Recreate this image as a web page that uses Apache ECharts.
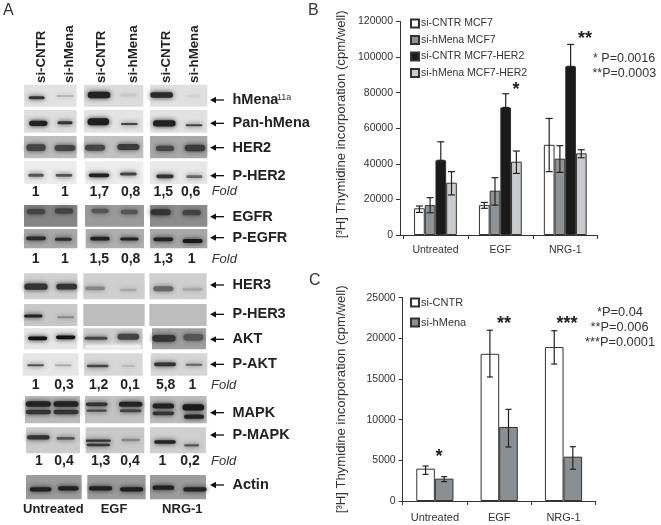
<!DOCTYPE html>
<html><head><meta charset="utf-8">
<script src="https://cdn.jsdelivr.net/npm/echarts@6/dist/echarts.min.js"></script>
<style>html,body{margin:0;background:#fff}#c{width:661px;height:525px}</style></head>
<body><div id="c"></div>
<script>
// ---------- chart data ----------
const categories = ['Untreated', 'EGF', 'NRG-1'];
const namesB = ['si-CNTR MCF7', 'si-hMena MCF7', 'si-CNTR MCF7-HER2', 'si-hMena MCF7-HER2'];
const cntrMcf7 = [15000, 16800, 50700];
const hMenaMcf7 = [16800, 24900, 42900];
const cntrHer2 = [42000, 71700, 94800];
const hMenaHer2 = [29400, 41200, 45900];
const cntrMcf7Err = [[12700, 16300], [15000, 18300], [35600, 65500]];
const hMenaMcf7Err = [[12500, 21000], [16800, 32200], [35200, 50200]];
const cntrHer2Err = [[42000, 52400], [71700, 79400], [94800, 107100]];
const hMenaHer2Err = [[22500, 35600], [34600, 47200], [43400, 47900]];
const namesC = ['si-CNTR', 'si-hMena'];
const cntrC = [3975, 18100, 18930];
const hMenaC = [2750, 9100, 5450];
const cntrCErr = [[3280, 4300], [15250, 21000], [16840, 20940]];
const hMenaCErr = [[2380, 3000], [6640, 11270], [3900, 6680]];
const pTextB = ['* P=0.0016', '**P=0.0003'];
const pTextC = ['*P=0.04', '**P=0.006', '***P=0.0001'];
const blotNames = ['hMena', 'Pan-hMena', 'HER2', 'P-HER2', 'EGFR', 'P-EGFR', 'HER3', 'P-HER3', 'AKT', 'P-AKT', 'MAPK', 'P-MAPK', 'Actin'];
const laneNames = ['si-CNTR', 'si-hMena', 'si-CNTR', 'si-hMena', 'si-CNTR', 'si-hMena'];
const foldRows = [
  ['1', '1', '1,7', '0,8', '1,5', '0,6'],
  ['1', '1', '1,5', '0,8', '1,3', '1'],
  ['1', '0,3', '1,2', '0,1', '5,8', '1'],
  ['1', '0,4', '1,3', '0,4', '1', '0,2']
];

// ---------- blot panel layout (3x units of the picture) ----------
const S = 1 / 3;
const layout = [
 {p:[[72,230,'#e2e2e2'],[252,430,'#dcdcdc'],[450,622,'#e0e0e0']],y:[254,320],ay:300,
  b:[[110,293,48,9,'#333'],[195,288,50,6,'#b5b5b5'],[297,285,68,20,'#222'],[385,285,50,9,'#c8c8c8'],[485,285,68,16,'#2a2a2a'],[580,288,40,7,'#d2d2d2']]},
 {p:[[72,230,'#dedede'],[252,430,'#e4e4e4'],[450,622,'#e2e2e2']],y:[330,398],ay:370,
  b:[[115,370,55,16,'#222'],[195,368,45,9,'#333'],[295,365,65,21,'#1f1f1f'],[388,372,50,6,'#444'],[493,370,68,19,'#222'],[582,376,50,6,'#444']]},
 {p:[[72,230,'#bdbdbd'],[252,430,'#c2c2c2'],[450,622,'#a8a8a8']],y:[408,475],ay:443,
  b:[[108,443,58,20,'#444'],[195,444,62,18,'#444'],[285,443,60,18,'#444'],[385,441,66,18,'#3a3a3a'],[495,445,55,16,'#444'],[585,444,62,20,'#3a3a3a']]},
 {p:[[72,230,'#ececec'],[255,430,'#ececec'],[450,622,'#e8e8e8']],y:[484,552],ay:527,
  b:[[108,526,46,9,'#555'],[192,526,50,8,'#555'],[297,526,62,11,'#222'],[385,522,50,9,'#444'],[495,529,52,11,'#333'],[583,530,48,8,'#666']]},
 {p:[[72,232,'#858585'],[255,432,'#9a9a9a'],[450,622,'#8c8c8c']],y:[615,680],ay:650,
  b:[[108,635,55,16,'#444'],[192,633,55,16,'#444'],[300,633,52,13,'#555'],[388,636,52,13,'#555'],[482,637,60,18,'#333'],[575,638,55,16,'#444']]},
 {p:[[72,232,'#a8a8a8'],[257,432,'#aeaeae'],[450,622,'#a8a8a8']],y:[687,745],ay:713,
  b:[[108,715,60,11,'#2a2a2a'],[190,718,50,9,'#2a2a2a'],[300,716,58,11,'#222'],[388,717,55,9,'#222'],[490,718,60,11,'#222'],[578,723,60,12,'#1a1a1a']]},
 {p:[[72,232,'#d0d0d0'],[250,434,'#cfcfcf'],[448,620,'#cfcfcf']],y:[820,898],ay:855,
  b:[[108,860,70,19,'#333'],[200,860,62,17,'#333'],[285,865,60,11,'#888'],[385,870,50,7,'#a8a8a8'],[490,866,60,15,'#666'],[578,868,60,9,'#a8a8a8']]},
 {p:[[72,232,'#c8c8c8'],[250,434,'#bdbdbd'],[448,620,'#bdbdbd']],y:[912,978],ay:943,
  b:[[100,948,55,9,'#222'],[197,952,50,6,'#888']]},
 {p:[[72,232,'#e6e6e6'],[250,428,'#cdcdcd'],[456,618,'#a0a0a0']],y:[985,1048],ay:1018,
  b:[[340,1040,170,12,'#efefef'],[113,1015,58,11,'#111'],[197,1012,58,11,'#111'],[288,1015,68,9,'#444'],[385,1010,65,18,'#444'],[492,1015,70,20,'#333'],[580,1012,60,20,'#555']]},
 {p:[[68,236,'#e6e6e6'],[252,428,'#d8d8d8'],[452,622,'#d6d6d6']],y:[1060,1127],ay:1093,
  b:[[107,1096,50,6,'#555'],[190,1096,50,5,'#a8a8a8'],[293,1098,65,7,'#444'],[385,1098,40,5,'#b5b5b5'],[495,1093,66,11,'#333'],[582,1094,50,6,'#666']]},
 {p:[[75,240,'#bcbcbc'],[255,433,'#c2c2c2'],[450,620,'#bcbcbc']],y:[1188,1270],ay:1238,
  b:[[115,1212,75,17,'#222'],[115,1236,75,13,'#333'],[198,1212,75,17,'#222'],[198,1236,75,13,'#333'],[290,1213,65,11,'#333'],[290,1232,60,7,'#444'],[392,1213,70,15,'#222'],[392,1232,65,9,'#444'],[490,1218,65,15,'#222'],[490,1240,65,11,'#333'],[580,1222,65,19,'#1a1a1a'],[582,1250,60,13,'#222']]},
 {p:[[78,240,'#cccccc'],[257,433,'#cacaca'],[450,618,'#cfcfcf']],y:[1282,1360],ay:1305,
  b:[[115,1312,68,13,'#333'],[197,1315,55,8,'#555'],[295,1322,75,7,'#333'],[295,1335,70,7,'#333'],[392,1320,55,7,'#888'],[495,1326,65,11,'#222'],[575,1336,45,7,'#555']]},
 {p:[[78,245,'#9c9c9c'],[262,437,'#9c9c9c'],[450,618,'#9c9c9c']],y:[1425,1498],ay:1455,
  b:[[122,1468,65,13,'#1f1f1f'],[205,1465,62,13,'#1f1f1f'],[302,1465,70,13,'#1f1f1f'],[395,1468,70,13,'#1f1f1f'],[490,1463,65,13,'#1f1f1f'],[585,1468,70,13,'#222']]}
];
const foldLayout = [
 {y:575,x:[107,195,298,392,490,572],fx:635},
 {y:778,x:[107,195,298,392,490,575],fx:635},
 {y:1155,x:[107,192,296,390,497,577],fx:633},
 {y:1384,x:[117,192,302,390,487,570],fx:633}
];
const laneX = [125,207,303,400,500,583];

const FONT = '"Liberation Sans", Arial, sans-serif';
const g = [];
function txt(x, y, text, size, opt) {
  opt = opt || {};
  g.push({type:'text', silent:true, x:x, y:y, rotation:opt.rot||0, z:20,
    style:{text:text, font:(opt.italic?'italic ':'')+(opt.bold?'bold ':'')+size+'px '+FONT,
      fill:opt.fill||'#222', align:opt.align||'left', verticalAlign:'middle'}});
}
layout.forEach(function (row, i) {
  row.p.forEach(function (p) {
    g.push({type:'rect', silent:true, z:10, shape:{x:p[0]*S, y:row.y[0]*S, width:(p[1]-p[0])*S, height:(row.y[1]-row.y[0])*S}, style:{fill:p[2]}});
  });
  row.b.forEach(function (b) {
    g.push({type:'rect', silent:true, z:11, shape:{x:(b[0]-b[2]/2)*S, y:(b[1]-b[3]/2)*S, width:b[2]*S, height:b[3]*S, r:b[3]*S/2},
      style:{fill:b[4], shadowBlur:5, shadowColor:b[4]}});
  });
  // arrow
  const ay = row.ay*S;
  g.push({type:'line', silent:true, z:12, shape:{x1:212, y1:ay, x2:224, y2:ay}, style:{stroke:'#111', lineWidth:1.3}});
  g.push({type:'polygon', silent:true, z:12, shape:{points:[[210,ay],[216,ay-3.2],[216,ay+3.2]]}, style:{fill:'#111'}});
  txt(232.5, ay, blotNames[i], 14.5, {bold:true});
});
txt(277, 97.5, '11a', 9, {fill:'#333'});
laneNames.forEach(function (n, i) { txt(laneX[i]*S, 83, n, 13.3, {bold:true, rot:Math.PI/2}); });
foldRows.forEach(function (r, i) {
  const L = foldLayout[i];
  r.forEach(function (v, j) { txt(L.x[j]*S, L.y*S, v, 14, {bold:true, align:'center'}); });
  txt(L.fx*S, L.y*S, 'Fold', 13, {italic:true, fill:'#333'});
});
categories.forEach(function (c, i) { txt([160,342,547][i]*S, 1528*S, c, 13, {bold:true, align:'center'}); });
txt(3, 11, 'A', 16, {fill:'#333'});
txt(308, 11, 'B', 16, {fill:'#333'});
txt(309, 281, 'C', 16, {fill:'#333'});
txt(593, 59, pTextB[0], 12.5, {fill:'#333'});
txt(592.5, 74, pTextB[1], 12.5, {fill:'#333'});
txt(597, 312, pTextC[0], 12.8, {fill:'#333'});
txt(590.5, 327, pTextC[1], 12.8, {fill:'#333'});
txt(585, 342, pTextC[2], 12.8, {fill:'#333'});
// significance stars
txt(516, 90, '*', 18, {bold:true, align:'center', fill:'#222'});
txt(585, 39, '**', 18, {bold:true, align:'center', fill:'#222'});
txt(439, 457, '*', 18, {bold:true, align:'center', fill:'#222'});
txt(504, 324, '**', 18, {bold:true, align:'center', fill:'#222'});
txt(567, 324, '***', 18, {bold:true, align:'center', fill:'#222'});
// short joining piece of the x axis in B
g.push({type:'line', silent:true, z:9, shape:{x1:400, y1:235.5, x2:403.5, y2:235.5}, style:{stroke:'#333', lineWidth:1}});

function errSeries(gridIdx, err, offsetPx, capW) {
  return {
    type:'custom', xAxisIndex:gridIdx, yAxisIndex:gridIdx, z:5, silent:true,
    data: err.map(function (e, i) { return [i, e[0], e[1]]; }),
    encode:{x:0, y:[1,2]},
    renderItem:function (params, api) {
      const lo = api.coord([api.value(0), api.value(1)]);
      const hi = api.coord([api.value(0), api.value(2)]);
      const x = lo[0] + offsetPx;
      const st = {stroke:'#222', lineWidth:1.2, fill:null};
      return {type:'group', children:[
        {type:'line', shape:{x1:x, y1:lo[1], x2:x, y2:hi[1]}, style:st},
        {type:'line', shape:{x1:x-capW/2, y1:hi[1], x2:x+capW/2, y2:hi[1]}, style:st},
        {type:'line', shape:{x1:x-capW/2, y1:lo[1], x2:x+capW/2, y2:lo[1]}, style:st}
      ]};
    }
  };
}
function bar(gridIdx, name, data, color, w) {
  return {type:'bar', name:name, xAxisIndex:gridIdx, yAxisIndex:gridIdx, data:data, barWidth:w, barGap:0, z:2,
    itemStyle:{color:color, borderColor:'#333', borderWidth:1}};
}
const axisLine = {show:true, lineStyle:{color:'#333', width:1}};
const tick = {show:true, length:4, lineStyle:{color:'#333', width:1}};
const plainTick = function (v) { return String(v); };
const W = 10.7, WC = 18.6;
const option = {
  animation:false, backgroundColor:'#fff',
  textStyle:{fontFamily:FONT},
  grid:[
    {left:403, top:21.5, width:194.7, height:213.5},
    {left:402.7, top:297.7, width:193, height:203.3}
  ],
  legend:[
    {orient:'vertical', left:405, top:13, itemWidth:8, itemHeight:8, itemGap:5.5, icon:'rect', data:namesB,
      textStyle:{fontSize:10.5, color:'#333', padding:[0,0,0,-3]}},
    {orient:'vertical', left:405, top:292, itemWidth:8, itemHeight:8, itemGap:9, icon:'rect', data:namesC,
      textStyle:{fontSize:11, color:'#333', padding:[0,0,0,-3]}}
  ],
  xAxis:[
    {type:'category', gridIndex:0, data:categories, axisLine:axisLine, axisTick:tick, axisLabel:{fontSize:10.5, color:'#333', margin:10}},
    {type:'category', gridIndex:1, data:categories, axisLine:axisLine, axisTick:tick, axisLabel:{fontSize:11, color:'#333', margin:11}}
  ],
  yAxis:[
    {type:'value', gridIndex:0, min:0, max:120000, interval:20000, offset:3, splitLine:{show:false}, axisLine:axisLine, axisTick:tick,
      axisLabel:{fontSize:10.5, color:'#333', margin:7, formatter:plainTick},
      name:'[³H] Thymidine incorporation (cpm/well)', nameLocation:'middle', nameGap:52, nameMoveOverlap:false,
      nameTextStyle:{fontSize:13.1, color:'#333', padding:[0,0,0,8]}},
    {type:'value', gridIndex:1, min:0, max:25000, interval:5000, splitLine:{show:false}, axisLine:axisLine, axisTick:tick,
      axisLabel:{fontSize:10.5, color:'#333', margin:7, formatter:plainTick},
      name:'[³H] Thymidine incorporation (cpm/well)', nameLocation:'middle', nameGap:55, nameMoveOverlap:false,
      nameTextStyle:{fontSize:13.1, color:'#333'}}
  ],
  series:[
    bar(0, namesB[0], cntrMcf7, '#ffffff', W),
    bar(0, namesB[1], hMenaMcf7, '#8f9395', W),
    bar(0, namesB[2], cntrHer2, '#1a1a1a', W),
    bar(0, namesB[3], hMenaHer2, '#c9cbce', W),
    errSeries(0, cntrMcf7Err, -1.5*W, 7),
    errSeries(0, hMenaMcf7Err, -0.5*W, 7),
    errSeries(0, cntrHer2Err, 0.5*W, 7),
    errSeries(0, hMenaHer2Err, 1.5*W, 7),
    bar(1, namesC[0], cntrC, '#ffffff', WC),
    bar(1, namesC[1], hMenaC, '#8c8f91', WC),
    errSeries(1, cntrCErr, -0.5*WC, 6),
    errSeries(1, hMenaCErr, 0.5*WC, 6)
  ],
  graphic:{elements:g}
};
echarts.init(document.getElementById('c')).setOption(option);
</script></body></html>
